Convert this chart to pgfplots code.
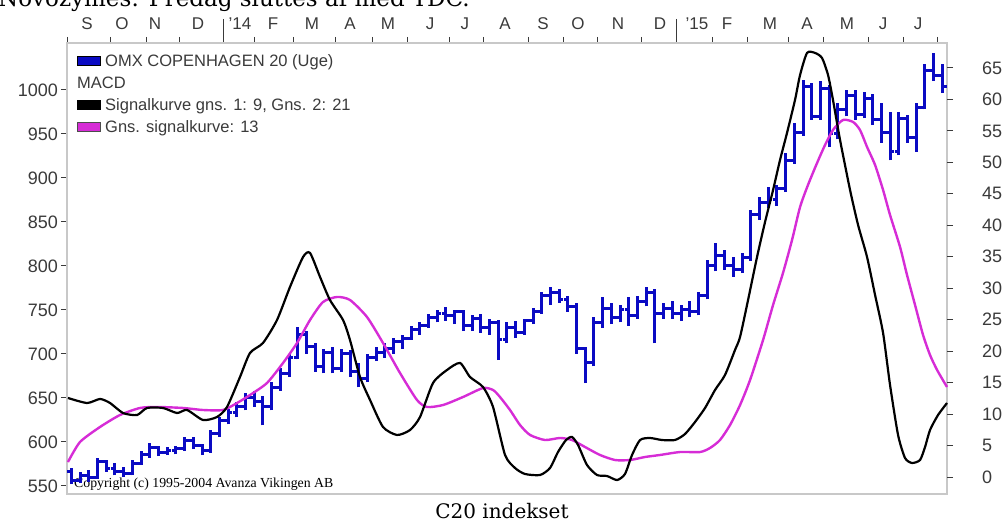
\documentclass[border=0pt]{standalone}
\usepackage{pgfplots}
\pgfplotsset{compat=1.18}
\usepackage{pgfplotstable}
\usepackage{fontspec}
\setmainfont{Liberation Sans}
\newfontfamily\serifdj{DejaVu Serif}
\newfontfamily\seriflib{Liberation Serif}
\definecolor{barblue}{RGB}{10,10,195}
\definecolor{sigmag}{RGB}{214,44,214}
\definecolor{txtgray}{RGB}{58,58,58}
\definecolor{framegray}{RGB}{200,200,200}

\pgfdeclareplotmark{openL}{\pgfpathmoveto{\pgfqpoint{-4.3pt}{0pt}}\pgfpathlineto{\pgfqpoint{0pt}{0pt}}\pgfusepathqstroke}
\pgfdeclareplotmark{closeR}{\pgfpathmoveto{\pgfqpoint{0pt}{0pt}}\pgfpathlineto{\pgfqpoint{4.3pt}{0pt}}\pgfusepathqstroke}

% weekly bars: x = week index, open, high, low, close
\pgfplotstableread{
x o h l c
0.5 566 571 552 556
1.5 556 566 553 562
2.5 562 568 555 560
3.5 560 582 558 578
4.5 578 580 566 570
5.5 570 576 562 566
6.5 566 572 560 564
7.5 564 580 562 576
8.5 576 590 574 586
9.5 586 599 582 594
10.5 594 596 584 588
11.5 588 594 585 590
12.5 590 596 586 593
13.5 593 606 590 602
14.5 602 606 592 596
15.5 596 598 585 590
16.5 590 614 588 610
17.5 610 628 606 624
18.5 624 638 620 634
19.5 634 646 628 640
20.5 640 656 636 650
21.5 650 658 640 646
22.5 646 652 619 640
23.5 640 668 636 662
24.5 662 684 658 678
25.5 678 700 674 696
26.5 696 731 694 722
27.5 722 726 700 708
28.5 708 712 680 686
29.5 686 706 678 702
30.5 702 708 678 684
31.5 684 706 680 700
32.5 700 704 674 680
33.5 680 690 662 672
34.5 672 700 668 696
35.5 696 708 692 702
36.5 702 712 696 706
37.5 706 718 700 714
38.5 714 722 706 718
39.5 718 732 716 728
40.5 728 736 722 732
41.5 732 746 730 742
42.5 742 750 736 746
43.5 746 753 738 744
44.5 744 750 734 748
45.5 748 750 726 732
46.5 732 744 726 740
47.5 740 746 724 730
48.5 730 740 722 736
49.5 736 739 693 716
50.5 716 736 712 730
51.5 730 738 718 724
52.5 724 740 722 738
53.5 738 752 734 748
54.5 748 770 746 766
55.5 766 776 756 770
56.5 770 774 758 762
57.5 762 766 748 754
58.5 754 758 700 706
59.5 706 708 667 690
60.5 690 742 686 736
61.5 736 765 730 752
62.5 752 758 734 742
63.5 742 756 736 750
64.5 750 765 732 744
65.5 744 766 740 760
66.5 760 776 754 770
67.5 770 774 712 746
68.5 746 758 740 752
69.5 752 760 740 746
70.5 746 756 738 750
71.5 750 760 742 748
72.5 748 770 744 766
73.5 766 807 762 800
74.5 800 826 794 812
75.5 812 818 796 800
76.5 800 810 788 796
77.5 796 815 792 810
78.5 810 864 806 858
79.5 858 878 852 872
80.5 872 890 866 876
81.5 876 892 868 888
82.5 888 928 884 920
83.5 920 962 916 952
84.5 952 1011 948 1004
85.5 1004 1008 966 970
86.5 970 1010 966 1002
87.5 1002 1006 935 950
88.5 950 985 944 978
89.5 978 1000 970 994
90.5 994 1000 966 972
91.5 972 998 968 990
92.5 990 995 960 966
93.5 966 985 940 952
94.5 952 975 920 930
95.5 930 975 926 968
96.5 968 972 940 946
97.5 946 985 930 980
98.5 980 1030 978 1022
99.5 1022 1042 1010 1016
100.5 1016 1030 997 1004
}\bars

% MACD signal curve (right axis)
\pgfplotstableread{
w v
0.11 12.56
2.30 11.76
3.79 12.40
4.94 11.76
6.43 10.17
8.04 9.85
9.18 10.97
11.02 10.97
12.63 10.17
13.78 10.65
15.61 9.06
17.22 9.54
18.37 11.13
19.86 15.89
21.01 19.71
22.50 21.30
24.11 24.95
25.60 30.20
27.10 34.96
27.90 35.60
29.05 31.79
30.19 28.13
31.69 24.95
32.49 21.77
33.64 15.89
34.79 12.24
36.28 7.95
37.89 6.68
39.38 7.47
40.53 9.54
42.02 14.94
43.63 17.01
45.12 18.12
46.27 15.89
47.76 14.30
48.91 11.13
50.29 3.50
51.44 1.43
52.58 0.48
54.31 0.32
55.45 1.43
56.37 3.97
57.29 5.88
57.98 6.36
58.67 5.09
59.70 1.91
60.85 0.32
62.00 0.16
63.15 -0.48
64.06 0.48
64.87 3.50
65.79 5.88
66.93 6.20
68.31 5.88
69.80 5.88
70.95 6.83
72.10 8.74
73.25 10.97
74.40 13.83
75.54 16.21
76.69 20.18
77.27 22.25
78.19 28.13
79.22 34.96
80.14 40.53
81.06 45.61
81.86 50.38
82.66 54.67
83.58 59.92
84.16 63.89
84.96 67.39
85.88 67.39
86.68 66.59
87.37 63.89
87.94 59.92
88.75 53.56
89.90 45.61
90.82 40.05
91.85 34.96
92.77 28.93
93.69 22.89
94.49 14.62
95.41 6.68
96.21 3.02
97.01 2.23
97.93 2.70
98.51 4.77
99.08 7.47
100.00 9.85
101.03 11.76
}\macd

% average signal curve (right axis)
\pgfplotstableread{
w v
0.11 2.38
1.49 5.56
3.79 7.95
6.08 9.85
8.38 10.97
10.33 11.13
13.32 10.97
15.61 10.65
17.91 10.65
19.52 11.76
21.01 13.03
22.96 14.94
24.80 18.12
26.41 21.30
27.90 24.95
29.39 27.81
31.00 28.61
32.49 28.13
34.44 25.43
36.28 21.30
38.23 16.53
40.18 12.24
41.33 11.13
43.17 11.44
45.46 12.71
47.76 14.14
48.91 13.83
49.71 12.71
50.86 10.65
52.01 8.26
53.16 6.68
54.88 5.88
56.60 6.20
57.98 5.88
59.47 4.77
61.19 3.50
62.92 2.70
64.64 2.70
66.36 3.18
68.08 3.50
70.38 3.97
72.68 3.97
73.82 4.61
74.97 5.88
76.12 8.26
77.27 11.44
78.42 15.42
79.91 21.77
81.06 27.34
82.20 32.42
83.24 37.67
84.16 42.91
85.07 46.41
86.11 49.90
87.03 52.77
87.94 55.15
89.09 56.74
90.24 56.42
91.04 55.15
91.85 52.45
92.77 49.59
93.69 45.61
94.49 41.64
95.64 36.55
96.44 32.10
97.36 27.34
98.28 22.57
99.08 19.39
99.89 17.01
101.03 14.30
}\signal

\begin{document}
\begin{tikzpicture}[x=1pt,y=1pt]
\node[anchor=base west, inner sep=0pt] at (-2,521.5) {\fontsize{23}{23}\selectfont\serifdj Novozymes: Fredag sluttes af med YDC.};
\node[anchor=base, inner sep=0pt] at (502,10) {\fontsize{20}{20}\selectfont\serifdj C20 indekset};
\node[anchor=base west, inner sep=0pt] at (74,41) {\fontsize{13.8}{13.8}\selectfont\seriflib Copyright (c) 1995-2004 Avanza Vikingen AB};

\begin{axis}[
  at={(67pt,34pt)}, anchor=south west,
  width=880pt, height=451pt, scale only axis,
  xmin=0, xmax=101.03, ymin=540.9, ymax=1053.4,
  axis line style={framegray, line width=1.2pt},
  xtick={0,4.94,9.18,12.97,17.91,21.58,25.95,30.77,35.13,39.04,43.97,47.76,52.93,56.95,60.96,66.01,70.03,74.05,78.07,82.78,86.80,91.96,95.98,99.89},
  xticklabels={},
  minor xtick={17.91,70.03},
  xtick pos=right,
  ytick={550,600,...,1000},
  ytick pos=left,
  tick align=outside,
  major tick length=6pt, minor tick length=24pt,
  tick style={txtgray, line width=1pt},
  yticklabel style={font=\fontsize{18}{18}\selectfont, text=txtgray, anchor=east, inner sep=0pt, xshift=-3pt},
  /pgf/number format/assume math mode=true,
  /pgf/number format/1000 sep={},
  clip=false,
]
\addplot[draw=none, mark=none, error bars/.cd, y dir=plus, y explicit, error mark=none,
  error bar style={draw=barblue, line width=3pt}]
  table[x=x, y=l, y error expr=\thisrow{h}-\thisrow{l}] {\bars};
\addplot[only marks, mark=openL, mark options={draw=barblue, line width=3pt}] table[x=x, y=o] {\bars};
\addplot[only marks, mark=closeR, mark options={draw=barblue, line width=3pt}] table[x=x, y=c] {\bars};
\end{axis}

\begin{axis}[
  at={(67pt,34pt)}, anchor=south west,
  width=880pt, height=451pt, scale only axis,
  xmin=0, xmax=101.03, ymin=-2.70, ymax=68.97,
  axis line style={draw=none},
  xtick={2.30,6.31,10.10,15.04,19.86,23.65,28.13,32.49,36.85,41.68,45.69,50.29,54.65,58.67,63.26,68.08,72.33,75.78,80.71,84.96,89.55,93.69,97.70},
  xticklabels={S,O,N,D,'14,F,M,A,M,J,J,A,S,O,N,D,'15,F,M,A,M,J,J},
  xtick pos=right, xticklabel pos=right,
  x tick style={draw=none},
  xticklabel style={font=\fontsize{17}{17}\selectfont, text=txtgray, anchor=base, inner sep=0pt, yshift=7pt},
  ytick={0,5,...,65},
  ytick pos=right, yticklabel pos=right,
  tick align=outside,
  major tick length=6pt,
  y tick style={txtgray, line width=1pt},
  yticklabel style={font=\fontsize{18}{18}\selectfont, text=txtgray, anchor=west, inner sep=0pt, xshift=29pt},
  /pgf/number format/assume math mode=true,
  clip=false,
]
\addplot[sigmag, line width=2.4pt, smooth, tension=0.4] table[x=w, y=v] {\signal};
\addplot[black, line width=2.2pt, smooth, tension=0.4] table[x=w, y=v] {\macd};
\end{axis}

% legend
\begin{scope}[font=\fontsize{16.5}{16.5}\selectfont, text=txtgray]
\filldraw[fill=barblue, draw=black, line width=0.8pt] (77,463) rectangle (100,472);
\node[anchor=base west, inner sep=0pt] at (105,461) {OMX COPENHAGEN 20 (Uge)};
\node[anchor=base west, inner sep=0pt] at (77,439) {MACD};
\filldraw[fill=black, draw=black, line width=0.8pt] (77,419) rectangle (100,428);
\node[anchor=base west, inner sep=0pt] at (105,417) {Signalkurve gns. 1: 9, Gns. 2: 21};
\filldraw[fill=sigmag, draw=black!70, line width=0.8pt] (77,397) rectangle (100,406);
\node[anchor=base west, inner sep=0pt] at (105,395) {Gns. signalkurve: 13};
\end{scope}
\pgfresetboundingbox
\useasboundingbox (0,0) rectangle (1006,528);
\end{tikzpicture}
\end{document}
